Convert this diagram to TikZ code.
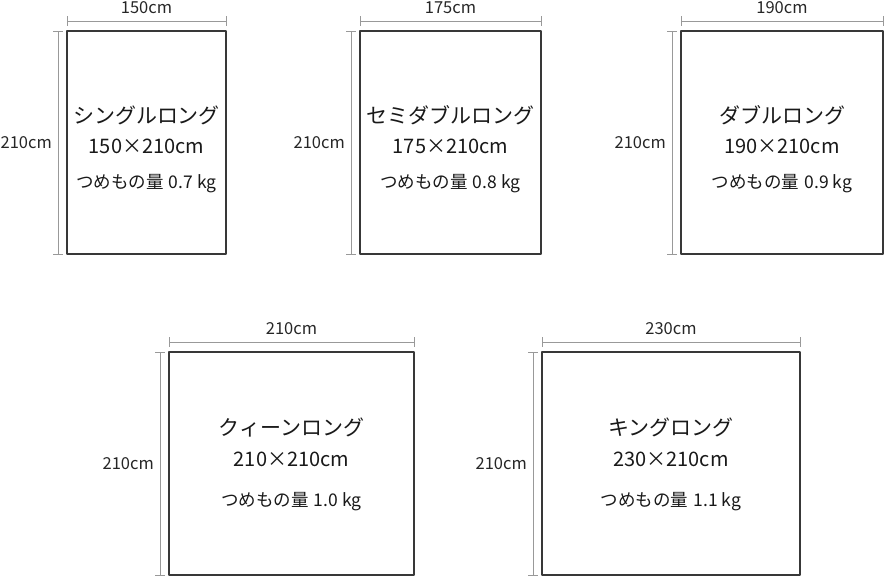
\documentclass[tikz,border=0pt]{standalone}
\usepackage{fontspec}
\setmainfont{Noto Sans CJK JP}
\newcommand{\wtimes}{{\addfontfeature{RawFeature=+fwid}×}}
\begin{document}
\begin{tikzpicture}[x=1pt,y=-1pt,line join=round,line cap=butt,
	bed/.style={draw=black!78,line width=1.15pt},
	dimline/.style={draw=black!40,line width=1pt},
	dimtext/.style={font=\fontsize{16.5}{18}\selectfont,text=black!85,inner sep=0pt},
	nametext/.style={font=\fontsize{21}{24}\selectfont,text=black!90,inner sep=0pt},
	sizetext/.style={font=\fontsize{20}{22}\selectfont,text=black!90,inner sep=0pt},
	kgtext/.style={font=\fontsize{17.5}{19}\selectfont,text=black!90,inner sep=0pt}]
	\useasboundingbox (0,0) rectangle (884,576);
	\foreach \nm/\xl/\xr/\yt/\yb/\ty/\sy/\wy/\ttl/\sz/\kg in {
		sgl/67/226/31/254/115/146/184/シングルロング/150/0.7,
		semi/360/541/31/254/115/146/184/セミダブルロング/175/0.8,
		dbl/681/883/31/254/115/146/184/ダブルロング/190/0.9,
		queen/169/414/352/575/427/459/502/クィーンロング/210/1.0,
		king/542/800/352/575/427/459/502/キングロング/230/1.1}{
		% bed outline
		\coordinate (\nm-nw) at (\xl,\yt);
		\coordinate (\nm-se) at (\xr,\yb);
		\draw[bed] (\nm-nw) rectangle (\nm-se);
		% width dimension
		\coordinate (\nm-wl) at (\xl,\yt-10);
		\coordinate (\nm-wr) at (\xr,\yt-10);
		\draw[dimline] (\nm-wl) -- (\nm-wr);
		\draw[dimline] ([yshift=5pt]\nm-wl) -- ([yshift=-5pt]\nm-wl);
		\draw[dimline] ([yshift=5pt]\nm-wr) -- ([yshift=-5pt]\nm-wr);
		\node[dimtext] (\nm-w) at ({(\xl+\xr)/2},\yt-23) {\sz cm};
		% length dimension
		\coordinate (\nm-lt) at (\xl-9,\yt);
		\coordinate (\nm-lb) at (\xl-9,\yb);
		\draw[dimline] (\nm-lt) -- (\nm-lb);
		\draw[dimline] ([xshift=-5pt]\nm-lt) -- ([xshift=5pt]\nm-lt);
		\draw[dimline] ([xshift=-5pt]\nm-lb) -- ([xshift=5pt]\nm-lb);
		\node[dimtext,anchor=east] (\nm-l) at (\xl-15,{(\yt+\yb)/2}) {210cm};
		% texts in the bed
		\node[nametext] (\nm-t) at ({(\xl+\xr)/2},\ty) {\ttl};
		\node[sizetext] (\nm-s) at ({(\xl+\xr)/2},\sy) {\sz\wtimes210cm};
		\node[kgtext] (\nm-k) at ({(\xl+\xr)/2},\wy) {つめもの量\hspace{5pt}\kg\ kg};
	}
\end{tikzpicture}
\end{document}
